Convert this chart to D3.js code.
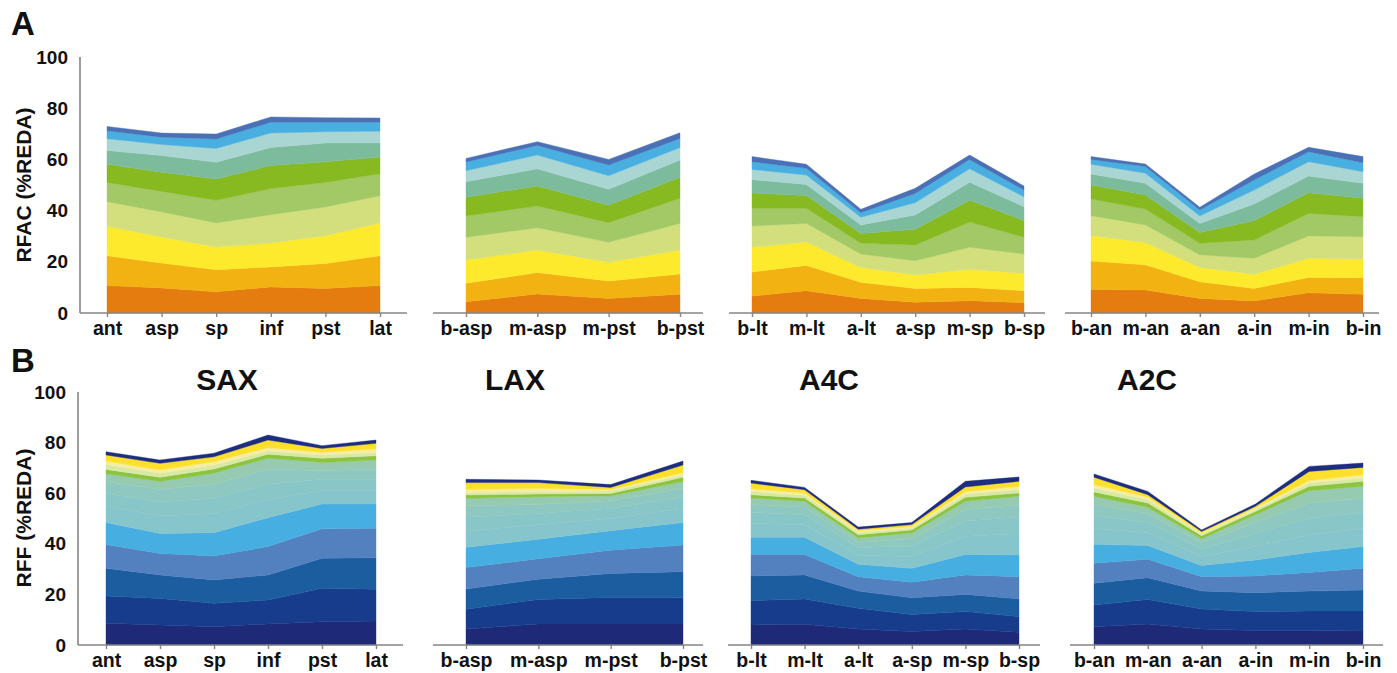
<!DOCTYPE html>
<html>
<head>
<meta charset="utf-8">
<script src="https://cdn.jsdelivr.net/npm/d3@7/dist/d3.min.js"></script>
<style>
  body { margin: 0; background: #fff; }
  text { font-family: "Liberation Sans", Arial, Helvetica, sans-serif; font-weight: bold; fill: #111; }
</style>
</head>
<body>
<svg id="chart" width="1397" height="673"></svg>
<script>
// Segment names for each echocardiographic view
const catSAX = ["ant", "asp", "sp", "inf", "pst", "lat"];
const catLAX = ["b-asp", "m-asp", "m-pst", "b-pst"];
const catA4C = ["b-lt", "m-lt", "a-lt", "a-sp", "m-sp", "b-sp"];
const catA2C = ["b-an", "m-an", "a-an", "a-in", "m-in", "b-in"];

const viewTitles = ["SAX", "LAX", "A4C", "A2C"];
const yTicks = [0, 20, 40, 60, 80, 100];

// Cumulative upper edge (%REDA) of each stacked layer, bottom layer first.
// Panel A: RFAC
const rfacSAX = [
  [10.7, 9.8, 8.3, 10.2, 9.6, 10.7],
  [22.4, 19.5, 16.9, 18.0, 19.3, 22.4],
  [33.9, 29.7, 25.8, 27.3, 30.2, 35.2],
  [43.5, 39.5, 35.2, 38.4, 41.4, 45.8],
  [51.0, 47.5, 44.0, 48.6, 51.0, 54.4],
  [58.1, 55.0, 52.3, 57.6, 59.1, 60.9],
  [63.5, 61.5, 58.9, 64.6, 66.4, 66.4],
  [68.1, 65.8, 64.3, 70.3, 70.8, 71.0],
  [71.2, 68.7, 68.0, 74.5, 74.5, 74.5],
  [72.9, 70.3, 69.9, 76.6, 76.3, 76.2]
];
const rfacLAX = [
  [4.4, 7.4, 5.7, 7.3],
  [11.6, 15.8, 12.5, 15.2],
  [20.7, 24.6, 19.8, 24.6],
  [29.6, 33.3, 27.6, 35.0],
  [37.9, 41.8, 35.3, 44.8],
  [45.2, 49.6, 42.1, 53.0],
  [51.3, 56.3, 48.3, 59.8],
  [55.6, 61.7, 53.6, 64.6],
  [59.0, 65.4, 57.8, 68.2],
  [60.4, 66.9, 60.0, 70.4]
];
const rfacA4C = [
  [6.6, 8.7, 5.7, 4.2, 4.8, 4.0],
  [16.0, 18.6, 12.0, 9.6, 10.0, 8.7],
  [25.7, 27.7, 17.8, 14.8, 17.0, 15.5],
  [34.0, 35.0, 23.0, 20.4, 25.7, 23.0],
  [40.9, 40.9, 27.2, 26.6, 35.5, 29.6],
  [46.9, 45.9, 31.1, 32.7, 44.0, 36.1],
  [52.1, 50.2, 34.4, 38.3, 51.1, 41.5],
  [56.1, 53.9, 37.4, 43.1, 56.3, 45.4],
  [59.1, 56.5, 39.2, 46.7, 60.0, 48.0],
  [61.1, 58.1, 40.5, 48.7, 61.7, 49.6]
];
const rfacA2C = [
  [9.2, 9.0, 5.7, 4.7, 7.9, 7.3],
  [20.3, 18.8, 12.2, 9.6, 13.9, 13.8],
  [30.2, 27.5, 17.8, 15.1, 21.4, 21.1],
  [38.0, 34.4, 22.7, 21.4, 30.1, 29.8],
  [44.5, 40.6, 27.2, 28.5, 38.9, 37.6],
  [50.0, 46.1, 31.4, 36.1, 47.0, 44.8],
  [54.3, 50.7, 35.0, 42.6, 53.5, 50.7],
  [58.1, 54.6, 37.9, 48.0, 59.1, 55.2],
  [60.0, 57.2, 40.2, 52.0, 63.0, 58.7],
  [61.1, 58.2, 41.3, 54.3, 64.7, 61.1]
];

// Panel B: RFF
const rffSAX = [
  [8.6, 7.9, 7.2, 8.3, 9.2, 9.5],
  [19.4, 18.4, 16.5, 17.8, 22.4, 22.0],
  [30.3, 27.7, 25.7, 27.7, 34.3, 34.5],
  [39.7, 36.2, 35.2, 38.9, 45.9, 46.1],
  [48.4, 44.1, 44.4, 50.3, 55.7, 55.7],
  [55.0, 51.0, 52.0, 57.5, 61.0, 61.0],
  [60.0, 56.5, 58.0, 63.5, 65.5, 65.5],
  [64.5, 61.5, 63.5, 69.5, 69.0, 69.5],
  [67.7, 64.6, 67.9, 73.8, 72.1, 73.1],
  [69.4, 66.3, 69.6, 75.4, 73.8, 74.8],
  [71.4, 67.9, 71.1, 76.7, 75.1, 76.0],
  [72.7, 69.2, 72.5, 78.0, 76.2, 77.5],
  [75.1, 71.8, 74.4, 81.0, 77.7, 79.7],
  [76.4, 73.1, 75.8, 83.0, 78.8, 81.0]
];
const rffLAX = [
  [6.3, 8.3, 8.3, 8.3],
  [14.1, 18.0, 18.8, 18.7],
  [22.1, 26.0, 28.3, 29.0],
  [30.6, 34.1, 37.5, 39.5],
  [38.6, 41.8, 45.2, 48.4],
  [45.0, 47.5, 50.0, 54.0],
  [50.5, 52.0, 54.0, 58.5],
  [55.0, 55.5, 57.0, 62.0],
  [58.0, 58.6, 58.9, 64.6],
  [59.3, 59.7, 59.9, 66.3],
  [60.2, 60.6, 60.9, 67.2],
  [61.5, 61.9, 61.5, 68.1],
  [64.2, 64.2, 62.3, 71.1],
  [65.5, 65.2, 63.4, 72.7]
];
const rffA4C = [
  [7.9, 8.2, 6.3, 5.3, 6.3, 5.0],
  [17.5, 18.2, 14.5, 12.1, 13.2, 11.2],
  [27.3, 27.7, 21.3, 18.7, 20.0, 18.2],
  [35.8, 35.8, 27.0, 24.8, 27.7, 27.0],
  [42.6, 42.6, 31.9, 30.3, 35.8, 35.6],
  [48.0, 47.5, 35.5, 35.0, 43.0, 44.0],
  [52.5, 51.5, 38.5, 39.0, 49.0, 50.5],
  [55.5, 54.5, 40.5, 42.0, 53.5, 55.5],
  [58.1, 56.8, 42.3, 44.3, 56.8, 58.8],
  [59.4, 58.1, 43.6, 45.5, 58.4, 60.1],
  [60.7, 59.2, 44.5, 46.2, 59.7, 61.4],
  [61.8, 60.1, 45.2, 46.8, 60.7, 62.7],
  [64.0, 61.4, 45.8, 47.6, 62.5, 64.7],
  [65.1, 62.3, 46.6, 48.4, 64.7, 66.4]
];
const rffA2C = [
  [7.2, 8.3, 6.3, 5.7, 5.7, 5.5],
  [15.8, 18.0, 14.2, 13.2, 13.4, 13.4],
  [24.4, 26.6, 21.3, 20.7, 21.3, 21.7],
  [32.3, 33.9, 27.0, 27.3, 28.7, 30.3],
  [39.8, 39.3, 31.4, 33.6, 36.6, 38.9],
  [46.0, 44.5, 35.0, 39.0, 43.5, 46.0],
  [51.0, 48.5, 38.0, 44.0, 50.0, 52.5],
  [55.5, 52.0, 40.5, 48.5, 56.0, 58.0],
  [58.8, 54.4, 42.0, 51.5, 61.0, 62.7],
  [60.5, 56.1, 43.2, 52.8, 62.7, 64.7],
  [62.1, 57.4, 43.9, 53.5, 64.0, 66.0],
  [63.4, 58.4, 44.3, 54.2, 65.0, 67.3],
  [66.3, 59.4, 44.9, 54.8, 68.6, 70.2],
  [67.6, 60.7, 45.5, 55.7, 70.6, 71.9]
];

// Layer palettes, bottom layer first
const rfacColors = ["#e47c0f", "#f2b212", "#feea2d", "#d3de7c", "#a3c967",
                    "#87b920", "#7cbc9c", "#a9d5d3", "#49afe1", "#4a70b6"];
const rffColors = ["#1e2a78", "#173c8c", "#1b5d9f", "#5380bf", "#46aee0",
                   "#87c5cd", "#89c6c8", "#8ec8c0", "#96cbb2", "#8cc43f",
                   "#d8e9a6", "#f5eda2", "#fde02b", "#1d2d7f"];

const svg = d3.select("#chart");

// Row geometry
const rows = [
  { yBase: 313, yTop: 57, axisX: 80, yTitle: "RFAC (%REDA)", titleY: 185, letter: "A", letterY: 35,
    colors: rfacColors,
    panels: [
      { cats: catSAX, tops: rfacSAX, x0: 107, x1: 380, a0: 80, a1: 407 },
      { cats: catLAX, tops: rfacLAX, x0: 466, x1: 680, a0: 433, a1: 703 },
      { cats: catA4C, tops: rfacA4C, x0: 752, x1: 1024, a0: 729, a1: 1045 },
      { cats: catA2C, tops: rfacA2C, x0: 1091, x1: 1363, a0: 1065, a1: 1379 }
    ] },
  { yBase: 645, yTop: 392, axisX: 78, yTitle: "RFF (%REDA)", titleY: 518, letter: "B", letterY: 372,
    colors: rffColors, titles: true,
    panels: [
      { cats: catSAX, tops: rffSAX, x0: 106, x1: 376, a0: 78, a1: 403, tx: 227 },
      { cats: catLAX, tops: rffLAX, x0: 466, x1: 683, a0: 433, a1: 703, tx: 515 },
      { cats: catA4C, tops: rffA4C, x0: 751, x1: 1019, a0: 728, a1: 1040, tx: 829 },
      { cats: catA2C, tops: rffA2C, x0: 1094, x1: 1363, a0: 1070, a1: 1383, tx: 1147 }
    ] }
];

rows.forEach(row => {
  const y = d3.scaleLinear().domain([0, 100]).range([row.yBase, row.yTop]);

  row.panels.forEach((p, pi) => {
    const x = d3.scalePoint().domain(p.cats).range([p.x0, p.x1]);
    const g = svg.append("g");

    // stacked areas between consecutive cumulative edges
    p.tops.forEach((top, li) => {
      const pts = p.cats.map((c, j) => ({
        c, lo: li === 0 ? 0 : p.tops[li - 1][j], hi: top[j]
      }));
      const area = d3.area()
        .x(d => x(d.c))
        .y0(d => y(d.lo))
        .y1(d => y(d.hi))
        .curve(d3.curveLinear);
      g.append("path")
        .datum(pts)
        .attr("d", area)
        .attr("fill", row.colors[li])
        .attr("stroke", row.colors[li])
        .attr("stroke-width", 0.4);
    });

    // x axis baseline
    g.append("line")
      .attr("x1", p.a0).attr("x2", p.a1)
      .attr("y1", row.yBase).attr("y2", row.yBase)
      .attr("stroke", "#858585").attr("stroke-width", 1.6);

    const xAxis = d3.axisBottom(x).tickSize(4).tickSizeOuter(0).tickPadding(4.5);
    const ax = g.append("g").attr("transform", `translate(0,${row.yBase})`).call(xAxis);
    ax.select(".domain").remove();
    ax.selectAll(".tick line").attr("stroke", "#858585").attr("stroke-width", 1.4);
    ax.selectAll(".tick text").style("font-size", "19.5px").attr("fill", "#111");

    if (row.titles) {
      svg.append("text")
        .attr("x", p.tx).attr("y", 390)
        .attr("text-anchor", "middle")
        .style("font-size", "30px")
        .text(viewTitles[pi]);
    }
  });

  // y axis on the first panel
  svg.append("line")
    .attr("x1", row.axisX).attr("x2", row.axisX)
    .attr("y1", y(0)).attr("y2", y(100))
    .attr("stroke", "#858585").attr("stroke-width", 1.6);
  const yAxis = d3.axisLeft(y).tickValues(yTicks).tickSize(0).tickPadding(12);
  const ya = svg.append("g").attr("transform", `translate(${row.axisX},0)`).call(yAxis);
  ya.select(".domain").remove();
  ya.selectAll(".tick text").style("font-size", "19px").attr("fill", "#111");

  svg.append("text")
    .attr("transform", `translate(31,${row.titleY}) rotate(-90)`)
    .attr("text-anchor", "middle")
    .style("font-size", "21px")
    .text(row.yTitle);

  svg.append("text")
    .attr("x", 11).attr("y", row.letterY)
    .style("font-size", "33px")
    .text(row.letter);
});
</script>
</body>
</html>
